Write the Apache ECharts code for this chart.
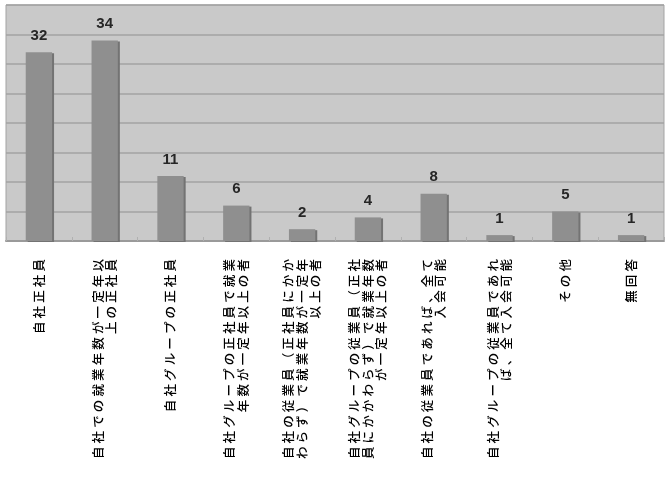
<!DOCTYPE html>
<html>
<head>
<meta charset="utf-8">
<script src="https://cdn.jsdelivr.net/npm/echarts@6/dist/echarts.min.js"></script>
<style>
  html, body { margin: 0; padding: 0; background: #ffffff; }
  #chart { width: 668px; height: 487px; }
</style>
</head>
<body>
<div id="chart"></div>
<script>
// Answer categories (line breaks as set in the axis labels)
const categories = [
  '自社正社員',
  '自社での就業年数が一定年以\n上の正社員',
  '自社グループの正社員',
  '自社グループの正社員で就業\n年数が一定年以上の者',
  '自社の従業員（正社員にかか\nわらず）で就業年数が一定年\n以上の者',
  '自社グループの従業員（正社\n員にかかわらず）で就業年数\nが一定年以上の者',
  '自社の従業員であれば、全て\n入会可能',
  '自社グループの従業員であれ\nば、全て入会可能',
  'その他',
  '無回答'
];

// Number of responses per category
const counts = [32, 34, 11, 6, 2, 4, 8, 1, 5, 1];

// Value axis range
const axisMax = 40;
const axisStep = 5;

// Spread the characters of each label line a little apart
function spaced(label) {
  return label.split('\n').map(line => Array.from(line).join('\u2005')).join('\n');
}

const chart = echarts.init(document.getElementById('chart'), null, { renderer: 'canvas' });

chart.setOption({
  animation: false,
  backgroundColor: '#ffffff',
  grid: {
    left: 6,
    right: 4,
    top: 5,
    bottom: 246,
    show: true,
    backgroundColor: '#c9c9c9',
    borderColor: '#a3a3a3',
    borderWidth: 1
  },
  xAxis: {
    type: 'category',
    data: categories,
    axisLine: { show: true, lineStyle: { color: '#9a9a9a', width: 2 } },
    axisTick: { show: true, inside: true, length: 4, alignWithLabel: false, lineStyle: { color: '#b0b0b0' } },
    axisLabel: {
      interval: 0,
      rotate: 90,
      margin: 18,
      fontSize: 12.5,
      lineHeight: 13.5,
      fontWeight: 500,
      color: '#000000',
      fontFamily: '"Noto Sans CJK JP", sans-serif',
      formatter: spaced
    }
  },
  yAxis: {
    type: 'value',
    min: 0,
    max: axisMax,
    interval: axisStep,
    axisLine: { show: false },
    axisTick: { show: false },
    axisLabel: { show: false },
    splitLine: { show: true, lineStyle: { color: '#a2a2a2', width: 1.5 } }
  },
  series: [{
    type: 'bar',
    data: counts,
    barWidth: '40%',
    itemStyle: {
      color: '#8f8f8f',
      shadowColor: '#737373',
      shadowOffsetX: 2,
      shadowOffsetY: 1,
      shadowBlur: 0
    },
    label: {
      show: true,
      position: 'top',
      distance: 9,
      fontSize: 15,
      fontWeight: 'bold',
      color: '#262626',
      fontFamily: '"Liberation Sans", Arial, sans-serif'
    }
  }]
});
</script>
</body>
</html>
